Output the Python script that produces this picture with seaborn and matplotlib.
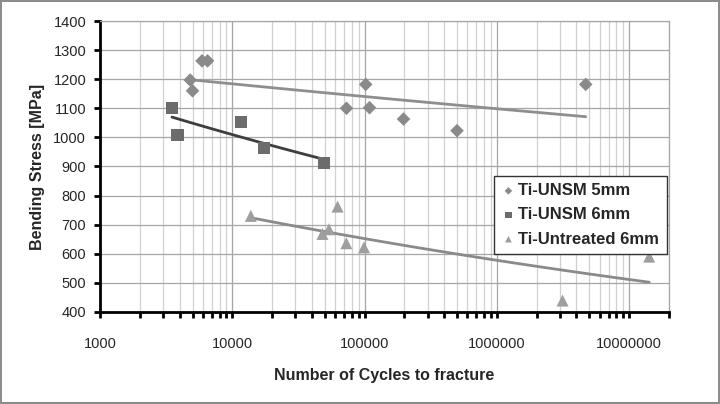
import numpy as np
import pandas as pd
import matplotlib
matplotlib.use("Agg")
import matplotlib.pyplot as plt
from matplotlib.ticker import LogLocator, FixedLocator, NullFormatter
import seaborn as sns

# ── data ────────────────────────────────────────────────────
unsm5_cycles = [4800, 5000, 5900, 6500, 73000, 102000, 109000, 197000, 500000, 4700000]
unsm5_stress = [1197, 1160, 1263, 1263, 1100, 1182, 1102, 1063, 1023, 1182]

unsm6_cycles = [3500, 3850, 11700, 17400, 49700]
unsm6_stress = [1102, 1009, 1052, 965, 913]

untr6_cycles = [13800, 48000, 53800, 62500, 72800, 99000, 3140000, 14200000]
untr6_stress = [730, 668, 684, 762, 636, 622, 439, 590]

series_names = ["Ti-UNSM 5mm", "Ti-UNSM 6mm", "Ti-Untreated 6mm"]
marker_cols = ["#8a8a8a", "#6c6c6c", "#9e9e9e"]
line_cols = ["#8e8e8e", "#3e3e3e", "#8a8a8a"]
markers = ["D", "s", "^"]
sizes = [48, 75, 75]
y_ticks = list(range(400, 1401, 100))
x_ticks = [1000, 10000, 100000, 1000000, 10000000]

df = pd.concat([
    pd.DataFrame({"cycles": unsm5_cycles, "stress": unsm5_stress, "series": series_names[0]}),
    pd.DataFrame({"cycles": unsm6_cycles, "stress": unsm6_stress, "series": series_names[1]}),
    pd.DataFrame({"cycles": untr6_cycles, "stress": untr6_stress, "series": series_names[2]}),
])

sns.set_style("white")
plt.rcParams["font.family"] = ["Liberation Sans", "DejaVu Sans"]

fig = plt.figure(figsize=(7.2, 4.04), dpi=100, linewidth=1.5, edgecolor="#8c8c8c")
ax = fig.add_axes([0.139, 0.228, 0.790, 0.720])

# power-law trend lines (like Excel "Power" trendline)
for name, col in zip(series_names, line_cols):
    sub = df[df.series == name]
    b, a = np.polyfit(np.log10(sub.cycles), np.log10(sub.stress), 1)
    xs = np.logspace(np.log10(sub.cycles.min()), np.log10(sub.cycles.max()), 50)
    ax.plot(xs, 10 ** (a + b * np.log10(xs)), color=col, lw=2.0, zorder=2)

for name, col, m, s in zip(series_names, marker_cols, markers, sizes):
    sub = df[df.series == name]
    sns.scatterplot(data=sub, x="cycles", y="stress", ax=ax, color=col, marker=m,
                    s=s, edgecolor="none", label=name, zorder=3)

ax.set_xscale("log")
ax.set_xlim(1000, 2e7)
ax.set_ylim(400, 1400)
ax.set_yticks(y_ticks)
ax.xaxis.set_major_locator(FixedLocator(x_ticks))
ax.xaxis.set_minor_locator(LogLocator(base=10, subs=np.arange(2, 10)))
ax.xaxis.set_minor_formatter(NullFormatter())
ax.set_xticklabels([str(v) for v in x_ticks])

ax.grid(which="major", color="#a6a6a6", lw=0.9)
ax.grid(which="minor", axis="x", color="#d0d0d0", lw=0.9)
for side in ["top", "right"]:
    ax.spines[side].set_color("#a6a6a6")
    ax.spines[side].set_linewidth(0.9)
for side in ["left", "bottom"]:
    ax.spines[side].set_color("black")
    ax.spines[side].set_linewidth(2.0)

ax.tick_params(axis="both", which="major", direction="out", length=4, width=2,
               color="black", labelsize=10.5, pad=6)
ax.tick_params(axis="x", which="minor", direction="out", length=4, width=2, color="black")
ax.tick_params(axis="x", which="major", pad=14)
ax.tick_params(bottom=True, left=True, which="both")
ax.tick_params(axis="y", which="minor", left=False)

ax.set_xlabel("Number of Cycles to fracture", fontsize=11.5, fontweight="bold", labelpad=12)
ax.set_ylabel("Bending Stress [MPa]", fontsize=11.5, fontweight="bold", labelpad=6)

leg = ax.legend(loc="upper left", bbox_to_anchor=(0.693, 0.468), borderaxespad=0,
                frameon=True, fancybox=False, edgecolor="#333333", framealpha=1,
                borderpad=0.45, handletextpad=0.2, handlelength=0.8, labelspacing=0.55,
                prop={"weight": "bold", "size": 12}, markerscale=0.55)
leg.get_frame().set_linewidth(1.0)

fig.savefig("out.png", dpi=100)
